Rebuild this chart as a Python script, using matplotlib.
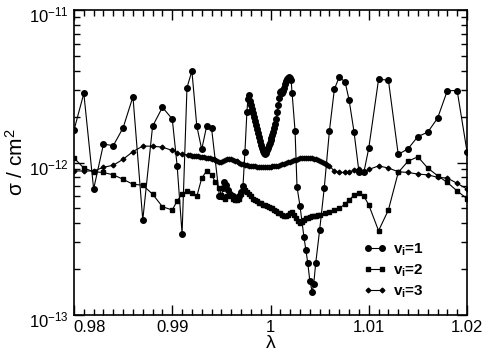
import numpy as np
import matplotlib
matplotlib.use("Agg")
import matplotlib.pyplot as plt
from matplotlib.ticker import MultipleLocator, FuncFormatter, LogLocator, FixedLocator
from matplotlib.transforms import ScaledTranslation

plt.rcParams["font.family"] = ["Liberation Sans", "DejaVu Sans"]
plt.rcParams["mathtext.fontset"] = "custom"
plt.rcParams["mathtext.rm"] = "Liberation Sans"
plt.rcParams["mathtext.it"] = "Liberation Sans:italic"
plt.rcParams["mathtext.bf"] = "Liberation Sans:bold"
plt.rcParams["axes.unicode_minus"] = False

# cross sections in units of 1e-12 cm^2
lam_v1 = [0.980, 0.981, 0.982, 0.983, 0.984, 0.985, 0.986, 0.987, 0.988, 0.989,
          0.990, 0.9905, 0.991, 0.9915, 0.992, 0.9925, 0.993, 0.9935, 0.994, 0.9948,
          0.9950, 0.9952, 0.9953, 0.9955, 0.9957, 0.9959, 0.9962, 0.9965, 0.9968,
          0.9970, 0.9972, 0.9974, 0.9976, 0.9977, 0.9978, 0.9979, 0.9980, 0.9981,
          0.9982, 0.9983, 0.9984, 0.9985, 0.9986, 0.9987, 0.9988, 0.9989, 0.9990,
          0.9991, 0.9992, 0.9993, 0.9994, 0.9995, 0.9996, 0.9997, 0.9998, 0.9999,
          1.0000, 1.0001, 1.0002, 1.0003, 1.0004, 1.0005, 1.0006, 1.0007, 1.0008,
          1.0009, 1.0010, 1.0011, 1.0012, 1.0013, 1.0014, 1.0015, 1.0016, 1.0017,
          1.0018, 1.0019, 1.0020, 1.0021, 1.0022, 1.0025, 1.0027, 1.0030, 1.0034,
          1.0036, 1.0038, 1.0040, 1.00425, 1.0044, 1.0046, 1.0050, 1.00547, 1.0060,
          1.0065, 1.0070, 1.0076, 1.0080, 1.0085, 1.0090, 1.0095, 1.0100, 1.0110,
          1.0120, 1.0130, 1.0140, 1.0150, 1.0160, 1.0170, 1.0180, 1.0190, 1.0200]
sig_v1 = [1.63, 2.84, 0.67, 1.32, 1.29, 1.69, 2.70, 0.42, 1.73, 2.30,
          1.93, 0.95, 0.34, 3.10, 3.98, 1.73, 1.22, 1.73, 1.68, 0.60,
          0.60, 0.68, 0.74, 0.71, 0.66, 0.62, 0.60, 0.58, 0.60,
          0.64, 0.70, 1.18, 2.15, 2.60, 2.77, 2.55, 2.38, 2.25,
          2.12, 2.00, 1.86, 1.76, 1.65, 1.55, 1.46, 1.38, 1.31,
          1.25, 1.19, 1.15, 1.14, 1.16, 1.20, 1.25, 1.30, 1.35,
          1.40, 1.45, 1.52, 1.58, 1.68, 1.80, 1.93, 2.15, 2.40,
          2.65, 2.90, 2.95, 2.86, 2.95, 3.06, 3.25, 3.42, 3.52,
          3.60, 3.62, 3.58, 3.45, 2.84, 1.61, 0.69, 0.52, 0.326,
          0.267, 0.218, 0.168, 0.142, 0.160, 0.218, 0.36, 0.68, 1.62,
          3.02, 3.65, 3.36, 2.57, 1.59, 0.87, 0.86, 1.24, 3.51,
          3.47, 1.13, 1.23, 1.48, 1.58, 1.95, 2.96, 2.96, 1.18]

lam_v2 = [0.980, 0.981, 0.982, 0.983, 0.984, 0.985, 0.986, 0.987, 0.988, 0.989,
          0.990, 0.9905, 0.991, 0.9915, 0.992, 0.9925, 0.9930, 0.9935, 0.9940,
          0.9944, 0.9948,
          0.9950, 0.9952, 0.9954, 0.9956, 0.9958, 0.9960, 0.9962, 0.9964, 0.9966,
          0.9968, 0.9970, 0.9972, 0.9974, 0.9976, 0.9978, 0.9980, 0.9982, 0.9984,
          0.9986, 0.9988, 0.9990, 0.9992, 0.9994, 0.9996, 0.9998, 1.0000, 1.0002,
          1.0004, 1.0006, 1.0008, 1.0010, 1.0012, 1.0014, 1.0016, 1.0018, 1.0020,
          1.0022, 1.0024, 1.0026, 1.0028, 1.0030, 1.0032, 1.0034, 1.0036, 1.0038,
          1.0040, 1.0042, 1.0044, 1.0046, 1.0048, 1.0050,
          1.0055, 1.0060, 1.0065, 1.0070, 1.0076, 1.0080, 1.0085, 1.0090, 1.0095,
          1.0100, 1.0110, 1.0120, 1.0130, 1.0140, 1.0150, 1.0160, 1.0170, 1.0180,
          1.0190, 1.0200]
sig_v2 = [1.07, 0.92, 0.87, 0.86, 0.83, 0.776, 0.72, 0.71, 0.62, 0.513,
          0.488, 0.56, 0.62, 0.65, 0.63, 0.60, 0.79, 0.88, 0.83,
          0.74, 0.68,
          0.61, 0.59, 0.58, 0.60, 0.62, 0.60, 0.58, 0.57, 0.57,
          0.58, 0.62, 0.68, 0.66, 0.64, 0.62, 0.60, 0.58, 0.565,
          0.555, 0.545, 0.54, 0.53, 0.525, 0.52, 0.51, 0.505, 0.50,
          0.49, 0.48, 0.47, 0.464, 0.455, 0.448, 0.445, 0.455, 0.47,
          0.476, 0.455, 0.43, 0.415, 0.40, 0.405, 0.42, 0.43, 0.435,
          0.44, 0.443, 0.446, 0.449, 0.451, 0.453,
          0.465, 0.476, 0.488, 0.50, 0.535, 0.567, 0.61, 0.628, 0.603,
          0.527, 0.357, 0.488, 0.86, 1.02, 1.09, 0.92, 0.82, 0.74,
          0.65, 0.58]

lam_v3 = [0.980, 0.981, 0.982, 0.983, 0.984, 0.985, 0.986, 0.987, 0.988, 0.989,
          0.990, 0.9905, 0.991,
          0.9916, 0.9918, 0.9920, 0.9922, 0.9924, 0.9926, 0.9928, 0.9930, 0.9932,
          0.9934, 0.9936, 0.9938, 0.9940, 0.9942, 0.9944, 0.9946, 0.9948, 0.9950,
          0.9952, 0.9954, 0.9956, 0.9958, 0.9960, 0.9962, 0.9964, 0.9966, 0.9968,
          0.9970, 0.9972, 0.9974, 0.9976, 0.9978, 0.9980, 0.9982, 0.9984, 0.9986,
          0.9988, 0.9990, 0.9992, 0.9994, 0.9996, 0.9998, 1.0000, 1.0002, 1.0004,
          1.0006, 1.0008, 1.0010, 1.0012, 1.0014, 1.0016, 1.0018, 1.0020, 1.0022,
          1.0024, 1.0026, 1.0028, 1.0030, 1.0032, 1.0034, 1.0036, 1.0038, 1.0040,
          1.0042, 1.0044, 1.0046, 1.0048, 1.0050, 1.0052, 1.0054, 1.0056, 1.0058,
          1.0060,
          1.0065, 1.0070, 1.0076, 1.0080, 1.0085, 1.0090, 1.0095, 1.0100, 1.0110,
          1.0120, 1.0130, 1.0140, 1.0150, 1.0160, 1.0170, 1.0180, 1.0190, 1.0200]
sig_v3 = [0.88, 0.88, 0.88, 0.93, 0.96, 1.05, 1.18, 1.28, 1.28, 1.26,
          1.20, 1.15, 1.13,
          1.12, 1.115, 1.11, 1.105, 1.10, 1.10, 1.09, 1.085, 1.08,
          1.075, 1.07, 1.065, 1.06, 1.05, 1.04, 1.03, 1.015, 1.015,
          1.03, 1.04, 1.05, 1.06, 1.055, 1.045, 1.03, 1.02, 1.00,
          0.985, 0.975, 0.965, 0.958, 0.952, 0.948, 0.945, 0.942, 0.940,
          0.939, 0.938, 0.938, 0.938, 0.939, 0.939, 0.940, 0.942, 0.945,
          0.948, 0.955, 0.963, 0.972, 0.982, 0.992, 1.002, 1.012, 1.025,
          1.035, 1.045, 1.055, 1.065, 1.072, 1.076, 1.078, 1.078, 1.076,
          1.07, 1.062, 1.052, 1.04, 1.025, 1.012, 0.995, 0.978, 0.962,
          0.948,
          0.88, 0.86, 0.86, 0.865, 0.89, 0.91, 0.86, 0.90, 0.95,
          0.92, 0.87, 0.86, 0.84, 0.83, 0.80, 0.79, 0.73, 0.67]

x_ticks = [0.98, 0.99, 1.00, 1.01, 1.02]
y_ticks = [1e-13, 1e-12, 1e-11]
labels = [r"v$_{\mathbf{i}}$=1", r"v$_{\mathbf{i}}$=2", r"v$_{\mathbf{i}}$=3"]

fig = plt.figure(figsize=(4.86, 3.54), dpi=100)
ax = fig.add_axes([74 / 486, 39 / 354, 393 / 486, 305 / 354])

ax.plot(lam_v1, np.array(sig_v1) * 1e-12, "k-", marker="o", markersize=4, lw=0.8, label=labels[0])
ax.plot(lam_v2, np.array(sig_v2) * 1e-12, "k-", marker="s", markersize=3.3, lw=0.8, label=labels[1])
ax.plot(lam_v3, np.array(sig_v3) * 1e-12, "k-", marker="D", markersize=2.4, lw=0.8, label=labels[2])

ax.set_yscale("log")
ax.set_xlim(0.98, 1.02)
ax.set_ylim(1e-13, 1e-11)

ax.xaxis.set_major_locator(FixedLocator(x_ticks))
ax.xaxis.set_minor_locator(MultipleLocator(0.001))
ax.xaxis.set_major_formatter(FuncFormatter(lambda v, p: f"{v:g}"))
ax.yaxis.set_major_locator(FixedLocator(y_ticks))
ax.yaxis.set_minor_locator(LogLocator(base=10, subs=np.arange(2, 10), numticks=20))
ax.yaxis.set_major_formatter(FuncFormatter(lambda v, p: r"$10^{%d}$" % round(np.log10(v))))
ax.yaxis.set_minor_formatter(FuncFormatter(lambda v, p: ""))

ax.tick_params(which="both", direction="in", top=True, right=True, labelsize=12, width=1)
ax.tick_params(which="major", length=7)
ax.tick_params(which="minor", length=4)
for s in ax.spines.values():
    s.set_linewidth(1.2)

ax.set_xlabel("λ", fontsize=14, labelpad=0)
ax.set_ylabel(r"σ / cm$^2$", fontsize=15, labelpad=2)

ax.legend(loc="lower right", bbox_to_anchor=(0.89, 0.05), frameon=False, numpoints=2,
          handlelength=1.5, handletextpad=0.4, labelspacing=0.3, borderaxespad=0,
          borderpad=0, prop={"weight": "bold", "size": 11})

# first x label sits to the right of its tick, y labels a bit low, as in the original
fig.canvas.draw()
xt = ax.xaxis.get_major_ticks()
xt[0].label1.set_horizontalalignment("left")
xt[0].label1.set_transform(xt[0].label1.get_transform()
                           + ScaledTranslation(-1 / 100, 0, fig.dpi_scale_trans))
for t in ax.yaxis.get_major_ticks():
    t.label1.set_transform(t.label1.get_transform()
                           + ScaledTranslation(0, -4 / 100, fig.dpi_scale_trans))

fig.savefig("out.png", dpi=100)
